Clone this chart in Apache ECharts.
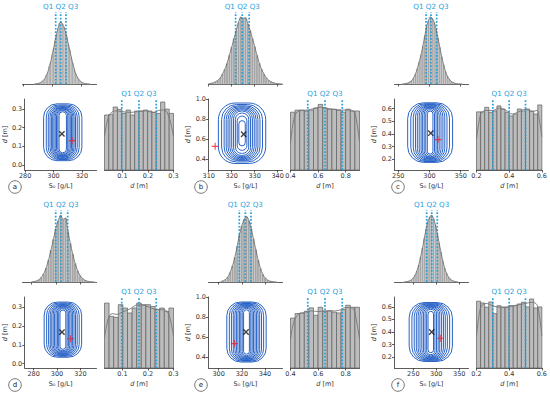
<!DOCTYPE html>
<html><head><meta charset="utf-8">
<script src="https://cdn.jsdelivr.net/npm/echarts@6/dist/echarts.min.js"></script>
<style>html,body{margin:0;padding:0;background:#fff}#c{width:550px;height:394px}</style>
</head><body><div id="c"></div>
<script>
// ================= DATA =================
const panelLetters = ['a','b','c','d','e','f'];

// Marginal histogram of S0 (relative frequency per bin)
const s0BinStart = [287.5, 309.5, 255, 279, 301, 228];
const s0BinWidth = [1, 1, 3, 2, 2, 4];
const s0CountsA = [0.2,0.4,0.7,1.3,2.3,3.8,6,9,14,19,28,36,47,58,70,80,90,98,100,97,92,85,76,65,55,44,34,25,17,12,8,5,3,1.8,1,0.6,0.3,0.15,0.1];
const s0CountsB = [0.5,1,1.8,3.3,5.5,9,15,22,31,43,55,68,80,92,100,98,99,90,80,68,56,43,31,22,15,9.5,6,3.5,2,1,0.5,0.2,0.1];
const s0CountsC = [0.1,0.3,0.7,1.5,3,5,9,15,23,33,44,57,72,86,95,100,98,92,82,69,55,41,29,19,12,7.5,4.2,2.2,1.1,0.5,0.25,0.1,0.05];
const s0CountsD = [0.3,0.7,1.6,3.4,7,12.5,21,33,48,64,80,92,100,94,96,76,58,42,28,17,10,5.5,2.8,1.3,0.5,0.2,0.1];
const s0CountsE = [0.8,1.9,4,8,15,25,38,55,72,86,96,100,94,82,66,50,34,21,12,6.5,3.3,1.5,0.6,0.25,0.1];
const s0CountsF = [0.2,0.4,0.8,1.7,3.3,6,10.5,17,26,38,51,66,80,91,98,100,95,86,73,59,45,32,21,13.5,8,4.6,2.4,1.2,0.6,0.3];
const s0Quartiles = [[302.4,305.8,309.4],[321.7,324.6,327.6],[294.4,302.4,311.5],[299.9,304.3,309.8],[317.8,323.0,327.9],[279.1,290.0,302.1]];

// Marginal histogram of d (density)
const dRange = [[0.03,0.30],[0.4,0.9],[0.2,0.6],[0.03,0.30],[0.4,0.9],[0.2,0.6]];
const dDensityA = [3.44,3.48,3.94,3.79,3.54,3.75,3.44,3.69,3.69,3.75,3.69,3.6,3.54,4.25,3.81,3.54];
const dDensityB = [1.93,2.0,2.0,1.97,2.0,2.07,2.19,2.07,2.03,2.03,2.0,1.93,2.03,1.97,1.97];
const dDensityC = [2.44,2.44,2.63,2.42,2.48,2.69,2.56,2.42,2.27,2.35,2.56,2.48,2.56,2.48,2.35,2.73];
const dDensityD = [4.06,3.23,3.17,3.96,3.75,3.44,3.75,4.06,3.96,3.96,3.85,3.65,3.75,3.54,3.75];
const dDensityE = [1.75,1.91,1.93,1.99,2.11,1.85,2.13,1.99,2.01,1.96,1.93,2.05,2.2,2.13,2.13];
const dDensityF = [2.69,2.62,2.45,2.66,2.19,2.51,2.45,2.45,2.51,2.51,2.58,2.65,2.46,2.78,2.42,2.46];
const dKdeA = [[0.03,2.1],[0.04,3.0],[0.05,3.45],[0.07,3.7],[0.1,3.65],[0.13,3.6],[0.16,3.65],[0.19,3.7],[0.22,3.6],[0.25,3.75],[0.27,3.7],[0.28,3.4],[0.29,2.9],[0.30,2.1]];
const dKdeB = [[0.4,0.9],[0.42,1.6],[0.44,1.9],[0.47,1.98],[0.52,2.0],[0.57,2.05],[0.62,2.1],[0.67,2.05],[0.72,2.02],[0.77,2.0],[0.82,2.0],[0.86,1.95],[0.88,1.6],[0.9,0.95]];
const dKdeC = [[0.2,1.3],[0.215,2.0],[0.23,2.4],[0.26,2.5],[0.3,2.5],[0.34,2.6],[0.38,2.5],[0.42,2.35],[0.46,2.45],[0.5,2.55],[0.54,2.45],[0.57,2.5],[0.585,2.1],[0.6,1.4]];
const dKdeD = [[0.03,1.9],[0.045,3.1],[0.06,3.4],[0.08,3.35],[0.1,3.5],[0.13,3.7],[0.16,3.95],[0.19,3.9],[0.22,3.7],[0.25,3.65],[0.27,3.6],[0.285,3.2],[0.3,2.0]];
const dKdeE = [[0.4,1.0],[0.42,1.55],[0.45,1.85],[0.5,1.95],[0.55,2.0],[0.6,1.98],[0.65,2.0],[0.7,2.0],[0.75,2.02],[0.8,2.12],[0.85,2.1],[0.88,1.6],[0.9,1.0]];
const dKdeF = [[0.2,1.3],[0.215,2.1],[0.23,2.5],[0.26,2.6],[0.3,2.5],[0.34,2.45],[0.38,2.45],[0.42,2.5],[0.46,2.55],[0.5,2.6],[0.54,2.65],[0.57,2.55],[0.585,2.1],[0.6,1.3]];
const dQuartiles = [[0.0975,0.165,0.2325],[0.525,0.65,0.775],[0.3,0.4,0.5],[0.0975,0.165,0.2325],[0.525,0.65,0.775],[0.3,0.4,0.5]];

// Joint density contours: centre and ring half-sizes (S0 units, d units)
const ringCenter = [[306.5,0.175],[324.5,0.66],[301,0.41],[305,0.18],[324,0.65],[288,0.40]];
const ringHalfWidthA = [13.5,11.6,10.2,9.0,8.0,7.1,6.2,5.3,4.4,3.5,2.6];
const ringHalfHeightA = [0.152,0.146,0.141,0.137,0.133,0.13,0.127,0.124,0.12,0.116,0.11];
const ringHalfWidthB = [10.3,8.9,7.8,6.9,6.1,5.3,4.5,3.7,2.9,2.1,1.4];
const ringHalfHeightB = [0.30,0.285,0.272,0.262,0.252,0.242,0.232,0.22,0.2,0.17,0.125];
const ringHalfWidthC = [36,31,27,23.5,20.5,17.5,14.5,12,9.5,7,4.5];
const ringHalfHeightC = [0.235,0.228,0.222,0.216,0.21,0.205,0.2,0.195,0.19,0.18,0.17];
const ringHalfWidthD = [16,13.9,12.2,10.8,9.5,8.3,7.1,5.9,4.7,3.6,2.5];
const ringHalfHeightD = [0.146,0.141,0.137,0.133,0.13,0.127,0.124,0.12,0.116,0.111,0.104];
const ringHalfWidthE = [17,14.8,13,11.4,10,8.7,7.4,6.1,4.9,3.7,2.5];
const ringHalfHeightE = [0.30,0.292,0.285,0.279,0.273,0.267,0.261,0.254,0.246,0.236,0.222];
const ringHalfWidthF = [47,41,36,31.5,27.5,23.5,19.5,16,12.5,9,6];
const ringHalfHeightF = [0.235,0.229,0.223,0.218,0.213,0.208,0.203,0.197,0.19,0.18,0.165];
const estimatePoint = [[305.9,0.166],[325.2,0.65],[302,0.405],[304.2,0.167],[323.6,0.65],[290,0.40]];
const truePoint = [[313.1,0.13],[312.8,0.53],[313.5,0.355],[311.6,0.132],[313.5,0.534],[308.6,0.35]];

// Axes
const s0Limits = [[279.7,330.3],[309.9,342.1],[243.9,362.5],[272.4,333.7],[291.2,355.1],[209.1,370]];
const s0TickValues = [[280,300,320],[310,320,330,340],[250,300,350],[280,300,320],[300,320,340],[250,300,350]];
const dLimits = [[-0.027,0.353],[0.295,1.0],[0.115,0.675],[-0.023,0.353],[0.29,1.0],[0.113,0.679]];
const dTickValues = [[0,0.1,0.2,0.3],[0.4,0.6,0.8,1.0],[0.2,0.3,0.4,0.5,0.6],[0,0.1,0.2,0.3],[0.4,0.6,0.8,1.0],[0.2,0.3,0.4,0.5,0.6]];
const dHistTickValues = [[0.1,0.2,0.3],[0.4,0.6,0.8],[0.2,0.4,0.6],[0.1,0.2,0.3],[0.4,0.6,0.8],[0.2,0.4,0.6]];
const qLabel = 'Q1 Q2 Q3';

// ================= LAYOUT / STYLE =================
const colOff = [0,186,372], rowOff = [0,198];
const topYMax = [116,107.5,107.5,108,110,108];
const dHistYMax = [4.44,2.37,2.98,4.44,2.49,2.86];
const FONT = 'DejaVu Sans';
const AX = '#333';
const QCOL = '#22a0dc';
const RINGCOL = '#2862c6';

const s0Counts = [s0CountsA,s0CountsB,s0CountsC,s0CountsD,s0CountsE,s0CountsF];
const dDensity = [dDensityA,dDensityB,dDensityC,dDensityD,dDensityE,dDensityF];
const dKde = [dKdeA,dKdeB,dKdeC,dKdeD,dKdeE,dKdeF];
const ringW = [ringHalfWidthA,ringHalfWidthB,ringHalfWidthC,ringHalfWidthD,ringHalfWidthE,ringHalfWidthF];
const ringH = [ringHalfHeightA,ringHalfHeightB,ringHalfHeightC,ringHalfHeightD,ringHalfHeightE,ringHalfHeightF];

const axisLine = {onZero:false, lineStyle:{color:AX, width:0.8}};
const axisTickBase = {length:2.5, lineStyle:{color:AX, width:0.8}};
const labelBase = {fontSize:6.5, color:AX, margin:2.5, fontFamily:FONT};

function histSeries(gi, start, width, counts, fill, stroke, lw) {
  const data = counts.map((c,i)=>[start+i*width, start+(i+1)*width, c]);
  return {type:'custom', xAxisIndex:gi, yAxisIndex:gi, data, silent:true, animation:false,
    encode:{x:[0,1], y:2},
    renderItem:(params, api)=>{
      const p0 = api.coord([api.value(0), api.value(2)]);
      const p1 = api.coord([api.value(1), 0]);
      return {type:'rect', shape:{x:p0[0], y:p0[1], width:p1[0]-p0[0], height:p1[1]-p0[1]},
        style:{fill, stroke, lineWidth:lw}};
    }};
}
function qSeries(gi, qs) {
  return {type:'custom', xAxisIndex:gi, yAxisIndex:gi, data:qs.map(q=>[q]), silent:true, animation:false,
    encode:{x:0},
    renderItem:(params, api)=>{
      const cs = params.coordSys;
      const p = api.coord([api.value(0), 0]);
      const children = [{type:'line', shape:{x1:p[0], y1:p[1], x2:p[0], y2:cs.y},
        style:{stroke:QCOL, lineWidth:1.7, lineDash:[1.7,1.7]}}];
      if (params.dataIndex === 1) {
        children.push({type:'text', style:{text:qLabel, x:p[0], y:cs.y-5.5, align:'center', verticalAlign:'middle',
          fill:QCOL, fontSize:7.2, fontFamily:FONT}});
      }
      return {type:'group', children};
    }};
}

const grids=[], xAxis=[], yAxis=[], series=[], graphic=[];
for (let p=0; p<6; p++) {
  const ox = colOff[p%3], oy = rowOff[Math.floor(p/3)];
  // --- top histogram (S0)
  let gi = grids.length;
  grids.push({left:ox+22.5, top:oy+12, width:74, height:72});
  xAxis.push({gridIndex:gi, type:'value', min:s0Limits[p][0], max:s0Limits[p][1],
    axisLine, axisTick:Object.assign({customValues:s0TickValues[p]}, axisTickBase),
    axisLabel:{show:false}, splitLine:{show:false}});
  yAxis.push({gridIndex:gi, type:'value', min:0, max:topYMax[p], show:false, splitLine:{show:false}});
  series.push(histSeries(gi, s0BinStart[p], s0BinWidth[p], s0Counts[p], '#a3a3a3', 'rgba(235,235,235,0.7)', 0.4));
  series.push({type:'line', xAxisIndex:gi, yAxisIndex:gi, silent:true, animation:false, symbol:'none', smooth:0.3,
    data:s0Counts[p].map((c,i)=>[s0BinStart[p]+(i+0.5)*s0BinWidth[p], c]),
    lineStyle:{color:'#666', width:0.8}});
  series.push(qSeries(gi, s0Quartiles[p]));

  // --- contour plot
  gi = grids.length;
  grids.push({left:ox+22.5, top:oy+99, width:74, height:71});
  xAxis.push({gridIndex:gi, type:'value', min:s0Limits[p][0], max:s0Limits[p][1],
    axisLine, axisTick:Object.assign({customValues:s0TickValues[p]}, axisTickBase),
    axisLabel:Object.assign({customValues:s0TickValues[p]}, labelBase), splitLine:{show:false},
    name:'S₀ [g/L]', nameLocation:'middle', nameGap:12.5, nameTextStyle:{fontSize:6.5, color:AX, fontFamily:FONT}});
  yAxis.push({gridIndex:gi, type:'value', min:dLimits[p][0], max:dLimits[p][1],
    axisLine, axisTick:Object.assign({customValues:dTickValues[p]}, axisTickBase),
    axisLabel:Object.assign({customValues:dTickValues[p], formatter:v=>v.toFixed(1)}, labelBase), splitLine:{show:false},
    name:'{i|d} [m]', nameLocation:'middle', nameGap:12, nameTextStyle:{fontSize:6.5, color:AX, fontFamily:FONT,
      rich:{i:{fontStyle:'italic', fontSize:6.5, color:AX, fontFamily:FONT}}}});
  const c = ringCenter[p], n = ringW[p].length;
  series.push({type:'custom', xAxisIndex:gi, yAxisIndex:gi, silent:true, animation:false, clip:true,
    data: ringW[p].map((w,i)=>[c[0], c[1], w, ringH[p][i]]),
    encode:{x:0, y:1},
    renderItem:(params, api)=>{
      const cx=api.value(0), cy=api.value(1), hw=api.value(2), hh=api.value(3);
      const p0 = api.coord([cx-hw, cy+hh]), p1 = api.coord([cx+hw, cy-hh]);
      const w = p1[0]-p0[0], h = p1[1]-p0[1];
      const k = 0.7 + 0.3*params.dataIndex/(n-1);
      return {type:'rect', shape:{x:p0[0], y:p0[1], width:w, height:h, r:Math.min(w,h)/2*k},
        style:{fill:'none', stroke:RINGCOL, lineWidth:1}};
    }});
  series.push({type:'scatter', xAxisIndex:gi, yAxisIndex:gi, silent:true, animation:false,
    data:[estimatePoint[p]], symbol:'path://M0,4.1H10V5.9H0Z M4.1,0H5.9V10H4.1Z', symbolRotate:45, symbolSize:7.5,
    itemStyle:{color:'#111'}, z:5});
  series.push({type:'scatter', xAxisIndex:gi, yAxisIndex:gi, silent:true, animation:false,
    data:[truePoint[p]], symbol:'path://M0,4.2H10V5.8H0Z M4.2,0H5.8V10H4.2Z', symbolSize:7,
    itemStyle:{color:'#e8202a'}, z:5});

  // --- right histogram (d)
  gi = grids.length;
  grids.push({left:ox+104.5, top:oy+99, width:69, height:71});
  xAxis.push({gridIndex:gi, type:'value', min:dRange[p][0], max:dRange[p][1],
    axisLine, axisTick:Object.assign({customValues:dHistTickValues[p]}, axisTickBase),
    axisLabel:Object.assign({customValues:dHistTickValues[p], formatter:v=>v.toFixed(1)}, labelBase), splitLine:{show:false},
    name:'{i|d} [m]', nameLocation:'middle', nameGap:12, nameTextStyle:{fontSize:6.5, color:AX, fontFamily:FONT,
      rich:{i:{fontStyle:'italic', fontSize:6.5, color:AX, fontFamily:FONT}}}});
  yAxis.push({gridIndex:gi, type:'value', min:0, max:dHistYMax[p], show:false, splitLine:{show:false}});
  const bw = (dRange[p][1]-dRange[p][0])/dDensity[p].length;
  series.push(histSeries(gi, dRange[p][0], bw, dDensity[p], '#bdbdbd', '#5e5e5e', 0.7));
  series.push({type:'line', xAxisIndex:gi, yAxisIndex:gi, silent:true, animation:false, symbol:'none', smooth:0.35,
    data:dKde[p], lineStyle:{color:'#777', width:0.9}});
  series.push(qSeries(gi, dQuartiles[p]));

  // --- panel letter
  const lx = ox + (p%3===2 ? 26 : 15), ly = oy + 187;
  graphic.push({type:'circle', shape:{cx:lx, cy:ly, r:6.3}, style:{fill:'#fff', stroke:'#555', lineWidth:0.8}, silent:true});
  graphic.push({type:'text', x:lx, y:ly, style:{text:panelLetters[p], align:'center', verticalAlign:'middle',
    fontSize:7, fill:'#222', fontFamily:FONT}, silent:true});
}

const chart = echarts.init(document.getElementById('c'), null, {renderer:'svg'});
chart.setOption({animation:false, backgroundColor:'#fff', grid:grids, xAxis, yAxis, series, graphic});
</script></body></html>
